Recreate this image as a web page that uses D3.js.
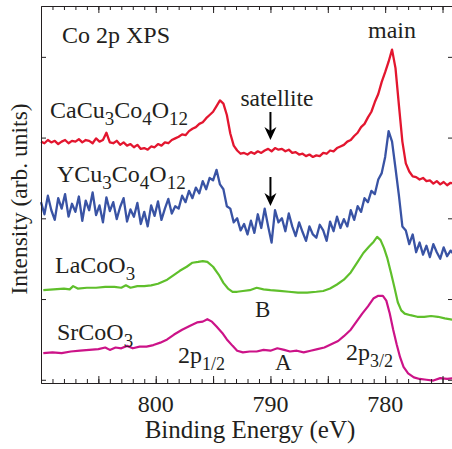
<html>
<head>
<script src="https://d3js.org/d3.v7.min.js"></script>
<style>
  body { margin: 0; background: #fff; }
  text { font-family: "Liberation Serif", "Times New Roman", serif; fill: #231f20; }
  .axis path, .axis line { stroke: #231f20; stroke-width: 1; }
</style>
</head>
<body>
<svg width="452" height="449"></svg>
<script>
// binding energy grid for the two noisy spectra (eV)
var energyGrid = [
  810.0, 809.7, 809.4, 809.1, 808.8, 808.5, 808.2, 807.9, 807.6, 807.3,
  807.0, 806.7, 806.4, 806.1, 805.8, 805.5, 805.2, 804.9, 804.6, 804.3,
  804.0, 803.7, 803.4, 803.1, 802.8, 802.5, 802.2, 801.9, 801.6, 801.3,
  801.0, 800.7, 800.4, 800.1, 799.8, 799.5, 799.2, 798.9, 798.6, 798.3,
  798.0, 797.7, 797.4, 797.1, 796.8, 796.5, 796.2, 795.9, 795.6, 795.3,
  795.0, 794.7, 794.4, 794.1, 793.8, 793.5, 793.2, 792.9, 792.6, 792.3,
  792.0, 791.7, 791.4, 791.1, 790.8, 790.5, 790.2, 789.9, 789.6, 789.3,
  789.0, 788.7, 788.4, 788.1, 787.8, 787.5, 787.2, 786.9, 786.6, 786.3,
  786.0, 785.7, 785.4, 785.1, 784.8, 784.5, 784.2, 783.9, 783.6, 783.3,
  783.0, 782.7, 782.4, 782.1, 781.8, 781.5, 781.2, 780.9, 780.6, 780.3,
  780.0, 779.7, 779.4, 779.1, 778.8, 778.5, 778.2, 777.9, 777.6, 777.3,
  777.0, 776.7, 776.4, 776.1, 775.8, 775.5, 775.2, 774.9, 774.6, 774.3,
  774.0
];

// CaCu3Co4O12 (offset, arb. units)
var caIntensity = [
  2.95, 2.93, 2.97, 2.94, 2.96, 2.92, 2.95, 2.97, 2.93, 2.96,
  2.95, 2.98, 2.94, 2.97, 2.96, 2.93, 2.99, 2.95, 2.97, 3.06,
  2.94, 2.93, 2.96, 2.91, 2.94, 2.90, 2.92, 2.88, 2.91, 2.86,
  2.87, 2.85, 2.89, 2.88, 2.92, 2.90, 2.94, 2.93, 2.97, 2.99,
  3.01, 3.04, 3.03, 3.08, 3.11, 3.13, 3.17, 3.19, 3.24, 3.28,
  3.32, 3.39, 3.46, 3.42, 3.28, 3.05, 2.90, 2.84, 2.80, 2.81,
  2.79, 2.82, 2.80, 2.83, 2.81, 2.84, 2.86, 2.83, 2.87, 2.85,
  2.86, 2.83, 2.85, 2.81, 2.82, 2.79, 2.80, 2.77, 2.79, 2.76,
  2.78, 2.77, 2.81, 2.80, 2.84, 2.83, 2.87, 2.89, 2.91, 2.95,
  2.97, 3.02, 3.06, 3.13, 3.17, 3.25, 3.32, 3.44, 3.54, 3.69,
  3.81, 3.94, 4.09, 3.86, 3.40, 2.95, 2.68, 2.58, 2.52, 2.51,
  2.48, 2.50, 2.46, 2.47, 2.43, 2.46, 2.42, 2.45, 2.41, 2.44,
  2.43
];

// YCu3Co4O12
var yIntensity = [
  2.20, 2.05, 2.28, 2.10, 1.98, 2.25, 2.12, 2.30, 2.02, 2.18,
  2.08, 2.27, 1.97, 2.22, 2.10, 2.32, 2.04, 2.16, 1.95, 2.26,
  2.09, 2.20, 1.99, 2.14, 2.25, 1.96, 2.11, 2.02, 2.19, 1.93,
  2.08, 1.90, 2.16, 2.03, 2.21, 1.98, 2.12, 2.24, 2.06, 2.15,
  2.12, 2.28, 2.20, 2.34, 2.25, 2.38, 2.31, 2.46, 2.36, 2.50,
  2.47, 2.60, 2.42, 2.36, 2.15, 2.12, 1.95, 2.00, 1.85, 1.93,
  1.80, 1.97, 1.82, 2.05, 1.88, 2.12, 1.90, 1.70, 2.10, 1.95,
  2.00, 1.84, 2.06, 1.90, 1.78, 1.95, 1.83, 1.72, 1.90, 1.80,
  1.76, 1.92, 1.85, 1.72, 1.96, 1.84, 2.02, 1.88, 1.99, 1.90,
  2.10, 1.98, 2.15, 2.08, 2.25, 2.20, 2.34, 2.30, 2.48, 2.56,
  2.76, 3.08, 2.95, 2.62, 2.28, 1.90, 1.85, 1.68, 1.80, 1.58,
  1.70, 1.55, 1.66, 1.52, 1.68, 1.58, 1.50, 1.64, 1.53, 1.60,
  1.55
];

// LaCoO3
var laEnergy = [
  809.8, 808.9, 808.0, 807.5, 807.2, 806.8, 806.0, 805.2, 804.4, 803.6,
  803.0, 802.6, 802.2, 801.6, 801.0, 800.4, 799.8, 799.0, 798.4, 797.9,
  797.3, 796.8, 796.3, 795.9, 795.5, 795.0, 794.5, 794.1, 793.7, 793.3,
  792.9, 792.4, 791.8, 791.2, 790.6, 790.0, 789.2, 788.4, 787.6, 786.8,
  786.0, 785.4, 784.8, 784.2, 783.6, 783.0, 782.4, 781.9, 781.4, 781.0,
  780.7, 780.4, 780.1, 779.8, 779.5, 779.2, 778.9, 778.6, 778.3, 777.8,
  777.2, 776.6, 776.0, 775.4, 774.8, 774.0
];
var laIntensity = [
  1.11, 1.12, 1.13, 1.12, 1.16, 1.13, 1.14, 1.14, 1.15, 1.15,
  1.14, 1.17, 1.14, 1.16, 1.16, 1.17, 1.19, 1.24, 1.30, 1.35,
  1.40, 1.45, 1.46, 1.47, 1.46, 1.40, 1.30, 1.20, 1.13, 1.09,
  1.09, 1.10, 1.11, 1.14, 1.12, 1.11, 1.10, 1.09, 1.08, 1.08,
  1.09, 1.10, 1.13, 1.18, 1.24, 1.33, 1.46, 1.57, 1.65, 1.71,
  1.77, 1.73, 1.63, 1.50, 1.33, 1.15, 0.96, 0.86, 0.82, 0.80,
  0.78, 0.78, 0.79, 0.78, 0.76, 0.74
];

// SrCoO3
var srEnergy = [
  809.8, 809.0, 808.2, 807.4, 806.6, 805.8, 805.0, 804.4, 804.0, 803.5,
  803.0, 802.5, 802.0, 801.4, 800.8, 800.2, 799.6, 799.0, 798.4, 797.7,
  797.0, 796.4, 795.9, 795.5, 795.1, 794.7, 794.2, 793.8, 793.3, 792.9,
  792.4, 791.8, 791.2, 790.6, 790.0, 789.4, 788.8, 788.3, 787.7, 787.1,
  786.5, 785.9, 785.3, 784.7, 784.1, 783.6, 783.0, 782.5, 782.0, 781.5,
  781.0, 780.6, 780.2, 779.9, 779.6, 779.3, 779.0, 778.7, 778.4, 778.0,
  777.5, 777.0, 776.4, 775.8, 775.2, 774.6, 774.0
];
var srIntensity = [
  0.33, 0.34, 0.33, 0.35, 0.36, 0.37, 0.38, 0.40, 0.37, 0.40,
  0.39, 0.42, 0.39, 0.41, 0.41, 0.43, 0.46, 0.50, 0.56, 0.62,
  0.67, 0.71, 0.72, 0.75, 0.72, 0.66, 0.58, 0.50, 0.42, 0.36,
  0.34, 0.35, 0.35, 0.37, 0.36, 0.39, 0.37, 0.35, 0.36, 0.34,
  0.36, 0.38, 0.40, 0.44, 0.48, 0.54, 0.62, 0.72, 0.82, 0.91,
  1.01, 1.04, 1.04, 0.98, 0.82, 0.62, 0.44, 0.28, 0.16, 0.08,
  0.03, 0.01, 0.00, -0.01, 0.02, 0.01, 0.02
];

var xLabelTicks = [800, 790, 780];
var xMidTicks = [805, 800, 795, 790, 785, 780, 775];
var yTicks = [0, 1, 2, 3, 4];

var svg = d3.select("svg");

var x = d3.scaleLinear().domain([810, 774]).range([41, 454]);
var y = d3.scaleLinear().domain([-0.04, 4.63]).range([383, 6]);

var line = d3.line()
  .x(function (d) { return x(d[0]); })
  .y(function (d) { return y(d[1]); });

function pairs(es, vs) { return es.map(function (e, i) { return [e, vs[i]]; }); }

var spectra = [
  { pts: pairs(energyGrid, caIntensity), color: "#e3162f", w: 2.3 },
  { pts: pairs(energyGrid, yIntensity), color: "#3953a4", w: 2.3 },
  { pts: pairs(laEnergy, laIntensity), color: "#5fbf2b", w: 2.2 },
  { pts: pairs(srEnergy, srIntensity), color: "#cc1388", w: 2.2 }
];

svg.append("g").selectAll("path")
  .data(spectra).enter().append("path")
  .attr("d", function (d) { return line(d.pts); })
  .attr("fill", "none")
  .attr("stroke", function (d) { return d.color; })
  .attr("stroke-width", function (d) { return d.w; })
  .attr("stroke-linejoin", "round");

// axes, ticks inward on all four sides
var minor = d3.range(775, 810, 1);
function xAxis(gen, ty, size, vals) {
  svg.append("g").attr("class", "axis").attr("transform", "translate(0," + ty + ")")
    .call(gen(x).tickValues(vals).tickSize(size).tickSizeOuter(0).tickFormat(""));
}
xAxis(d3.axisBottom, 383, -4, minor);
xAxis(d3.axisBottom, 383, -7, xMidTicks);
xAxis(d3.axisTop, 6, -4, minor);
xAxis(d3.axisTop, 6, -7, xMidTicks);

svg.append("g").attr("class", "axis").attr("transform", "translate(41,0)")
  .call(d3.axisLeft(y).tickValues(yTicks).tickSize(-5).tickSizeOuter(0).tickFormat(""));
svg.append("g").attr("class", "axis").attr("transform", "translate(454,0)")
  .call(d3.axisRight(y).tickValues(yTicks).tickSize(-6).tickSizeOuter(0).tickFormat(""));

svg.selectAll(".xlab").data(xLabelTicks).enter().append("text")
  .attr("x", function (d) { return x(d); })
  .attr("y", 412)
  .attr("text-anchor", "middle")
  .attr("font-size", 24)
  .text(function (d) { return d; });

svg.append("text").attr("x", 250).attr("y", 438)
  .attr("text-anchor", "middle").attr("font-size", 25)
  .text("Binding Energy (eV)");

svg.append("text").attr("transform", "translate(27,199) rotate(-90)")
  .attr("text-anchor", "middle").attr("font-size", 23.5)
  .text("Intensity (arb. units)");

// labels with subscripts: parts as [text, isSub]
function label(px, py, parts, size, subSize) {
  var t = svg.append("text").attr("x", px).attr("y", py).attr("font-size", size);
  parts.forEach(function (p, i) {
    var prev = i > 0 ? parts[i - 1][1] : false;
    var dy = p[1] && !prev ? 7 : (!p[1] && prev ? -7 : 0);
    var s = t.append("tspan").attr("dy", dy).text(p[0]);
    if (p[1]) s.attr("font-size", subSize);
  });
}

label(62, 43, [["Co 2p XPS", false]], 24, 17);
label(50, 118, [["CaCu", false], ["3", true], ["Co", false], ["4", true], ["O", false], ["12", true]], 24, 19);
label(57, 182, [["YCu", false], ["3", true], ["Co", false], ["4", true], ["O", false], ["12", true]], 24, 19);
label(55, 273, [["LaCoO", false], ["3", true]], 24, 19);
label(57, 340, [["SrCoO", false], ["3", true]], 24, 19);
label(178, 363, [["2p", false], ["1/2", true]], 24, 18);
label(346, 360, [["2p", false], ["3/2", true]], 24, 18);
label(255, 317, [["B", false]], 23, 17);
label(275, 370, [["A", false]], 23, 17);
svg.append("text").attr("x", 392).attr("y", 38).attr("text-anchor", "middle")
  .attr("font-size", 24).text("main");
svg.append("text").attr("x", 277).attr("y", 106).attr("text-anchor", "middle")
  .attr("font-size", 23.5).text("satellite");

// arrows marking the satellite
function arrow(e, y0, y1) {
  var ax = x(e);
  svg.append("line").attr("x1", ax).attr("x2", ax).attr("y1", y0).attr("y2", y1 - 8)
    .attr("stroke", "#000").attr("stroke-width", 2);
  svg.append("path")
    .attr("d", "M" + (ax - 6) + "," + (y1 - 13) + "L" + ax + "," + y1 + "L" + (ax + 6) + "," + (y1 - 13) + "L" + ax + "," + (y1 - 9) + "Z")
    .attr("fill", "#000");
}
arrow(790, 112, 140);
arrow(790, 177, 206);
</script>
</body>
</html>
